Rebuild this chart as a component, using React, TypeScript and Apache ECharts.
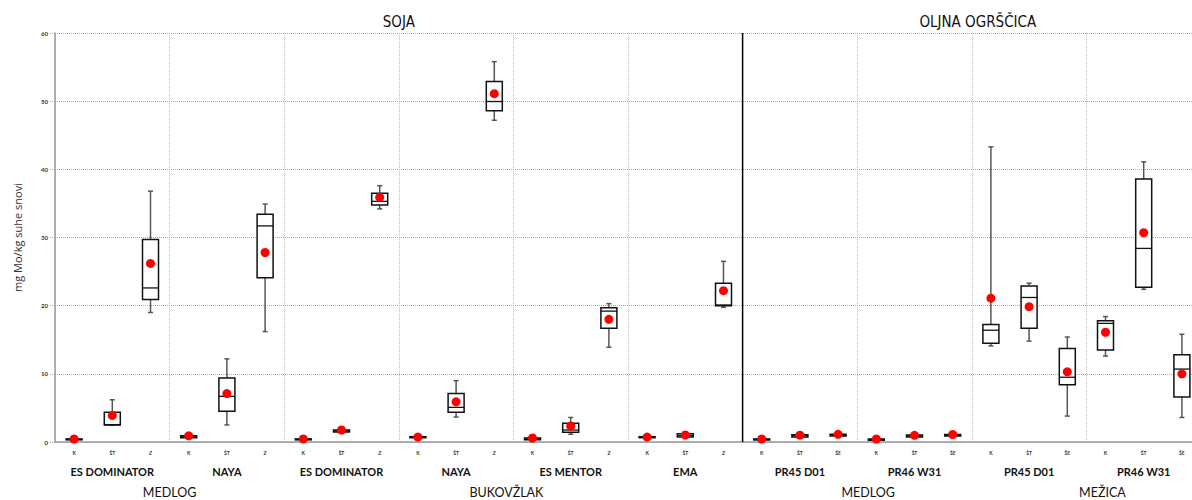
import React, { useEffect, useRef } from 'react';
import * as echarts from 'echarts';

// ---------- DATA ----------
const groupNames = ['ES DOMINATOR', 'NAYA', 'ES DOMINATOR', 'NAYA', 'ES MENTOR', 'EMA', 'PR45 D01', 'PR46 W31', 'PR45 D01', 'PR46 W31'];
const soyTicks = ['K', 'ŠT', 'Z'];
const rapeTicks = ['K', 'ŠT', 'ŠE'];
const soyGroupCount = 6;

const crops = ['SOJA', 'OLJNA OGRŠČICA'];
const cropGroupSpans = [[0, 5], [6, 9]];
const locations = ['MEDLOG', 'BUKOVŽLAK', 'MEDLOG', 'MEŽICA'];
const locationGroupSpans = [[0, 1], [2, 5], [6, 7], [8, 9]];

// per category (10 groups x 3)
const mins = [
  0.3, 2.45, 19.0, 0.6, 2.5, 16.2, 0.3, 1.4, 34.2, 0.6, 3.67, 47.2, 0.3, 1.13, 13.9,
  0.6, 0.7, 19.75, 0.28, 0.55, 0.85, 0.24, 0.7, 0.85, 14.1, 14.8, 3.8, 12.6, 22.4, 3.6,
];
const q1s = [
  0.32, 2.5, 20.9, 0.62, 4.5, 24.1, 0.32, 1.45, 34.75, 0.63, 4.35, 48.6, 0.34, 1.42, 16.7,
  0.63, 0.73, 20.0, 0.3, 0.73, 0.88, 0.26, 0.73, 0.88, 14.5, 16.7, 8.4, 13.5, 22.7, 6.6,
];
const medians = [
  0.38, 2.55, 22.6, 0.75, 6.7, 31.7, 0.38, 1.6, 35.3, 0.7, 5.08, 49.95, 0.45, 1.76, 19.2,
  0.7, 0.95, 20.1, 0.38, 0.9, 1.0, 0.35, 0.9, 1.0, 16.4, 21.2, 9.5, 17.4, 28.4, 10.7,
];
const q3s = [
  0.45, 4.35, 29.7, 0.9, 9.4, 33.4, 0.45, 1.75, 36.5, 0.78, 7.13, 52.9, 0.59, 2.74, 19.7,
  0.78, 1.22, 23.3, 0.44, 1.07, 1.12, 0.44, 1.03, 1.1, 17.25, 22.9, 13.7, 17.8, 38.6, 12.8,
];
const maxs = [
  0.45, 6.2, 36.8, 0.9, 12.2, 34.9, 0.45, 1.8, 37.6, 0.8, 9.0, 55.8, 0.6, 3.6, 20.3,
  0.8, 1.25, 26.5, 0.45, 1.1, 1.15, 0.45, 1.05, 1.12, 43.3, 23.3, 15.4, 18.4, 41.1, 15.8,
];
const means = [
  0.44, 3.9, 26.2, 0.9, 7.1, 27.8, 0.45, 1.76, 35.9, 0.73, 5.9, 51.1, 0.59, 2.35, 18.0,
  0.73, 1.03, 22.2, 0.44, 1.0, 1.12, 0.44, 0.98, 1.1, 21.1, 19.85, 10.3, 16.1, 30.7, 10.0,
];

const yName = 'mg Mo/kg suhe snovi';

// ---------- BUILD ----------
const tickLabels: string[] = [];
groupNames.forEach((_, g) => {
  (g < soyGroupCount ? soyTicks : rapeTicks).forEach((t) => tickLabels.push(t));
});
const boxRows = tickLabels.map((_, i) => [i, mins[i], q1s[i], medians[i], q3s[i], maxs[i]]);
const meanRows = tickLabels.map((_, i) => [i, means[i]]);

const locationShift = [0, -7, 11, 16];
const cropShift = [0, 6];

export default function App() {
  const ref = useRef<HTMLDivElement>(null);
  useEffect(() => {
    if (!ref.current) return;
    const chart = echarts.init(ref.current, null, { renderer: 'svg' });
    const option: any = {
      animation: false,
      grid: { left: 55, right: 0, top: 33, bottom: 58 },
      xAxis: [
        {
          type: 'category',
          data: tickLabels,
          position: 'bottom',
          axisLine: { show: true, lineStyle: { color: '#9a9a9a', width: 1.5 } },
          axisTick: { show: false },
          axisLabel: { interval: 0, fontSize: 5, color: '#333', fontWeight: 'bold', margin: 8, fontFamily: 'Lato' },
          splitLine: { show: false },
        },
        {
          type: 'category',
          data: groupNames,
          position: 'bottom',
          axisLine: { show: false },
          axisTick: { show: false },
          axisLabel: { interval: 0, fontSize: 11, color: '#111', fontWeight: 'bold', margin: 24, fontFamily: 'Lato' },
          splitLine: { show: true, interval: 0, lineStyle: { type: 'dotted', color: '#bdbdbd', width: 1 } },
        },
      ],
      yAxis: {
        type: 'value',
        min: 0,
        max: 60,
        interval: 10,
        name: yName,
        nameLocation: 'middle',
        nameGap: 32,
        nameTextStyle: { fontSize: 11, color: '#333', fontFamily: 'Open Sans' },
        axisLine: { show: true, lineStyle: { color: '#9a9a9a', width: 1.5 } },
        axisTick: { show: true, length: 5, lineStyle: { color: '#aaa', type: 'dotted' } },
        axisLabel: { fontSize: 6, color: '#333', fontWeight: 'bold', margin: 7, fontFamily: 'Lato' },
        splitLine: { show: true, lineStyle: { type: 'dotted', color: '#a8a8a8', width: 1 } },
      },
      series: [
        {
          type: 'custom',
          xAxisIndex: 0,
          yAxisIndex: 0,
          encode: { x: 0, y: [1, 2, 3, 4, 5] },
          data: boxRows,
          z: 3,
          renderItem: (params: any, api: any) => {
            const x = api.value(0);
            const lo = api.coord([x, api.value(1)]);
            const q1 = api.coord([x, api.value(2)]);
            const md = api.coord([x, api.value(3)]);
            const q3 = api.coord([x, api.value(4)]);
            const hi = api.coord([x, api.value(5)]);
            const cx = lo[0];
            const hw = 8;
            const cw = 2.5;
            const wStyle = { stroke: '#555', lineWidth: 1.5 };
            return {
              type: 'group',
              children: [
                { type: 'line', shape: { x1: cx, y1: hi[1], x2: cx, y2: q3[1] }, style: wStyle },
                { type: 'line', shape: { x1: cx, y1: q1[1], x2: cx, y2: lo[1] }, style: wStyle },
                { type: 'line', shape: { x1: cx - cw, y1: hi[1], x2: cx + cw, y2: hi[1] }, style: wStyle },
                { type: 'line', shape: { x1: cx - cw, y1: lo[1], x2: cx + cw, y2: lo[1] }, style: wStyle },
                {
                  type: 'rect',
                  shape: { x: cx - hw, y: q3[1], width: hw * 2, height: Math.max(q1[1] - q3[1], 0.5) },
                  style: { fill: '#fff', stroke: '#111', lineWidth: 1.5 },
                },
                { type: 'line', shape: { x1: cx - hw, y1: md[1], x2: cx + hw, y2: md[1] }, style: { stroke: '#111', lineWidth: 1.3 } },
              ],
            };
          },
        },
        {
          type: 'scatter',
          xAxisIndex: 0,
          yAxisIndex: 0,
          data: meanRows,
          symbol: 'circle',
          symbolSize: 9,
          itemStyle: { color: '#ff0000', opacity: 1 },
          z: 5,
        },
      ],
    };
    chart.setOption(option);

    const px = (i: number) => chart.convertToPixel({ xAxisIndex: 0 }, i) as number;
    const yTop = chart.convertToPixel({ yAxisIndex: 0 }, 60) as number;
    const yBot = chart.convertToPixel({ yAxisIndex: 0 }, 0) as number;
    const graphics: any[] = [];
    const sepX = (px(soyGroupCount * 3 - 1) + px(soyGroupCount * 3)) / 2;
    graphics.push({
      type: 'line',
      shape: { x1: sepX, y1: yTop, x2: sepX, y2: yBot },
      style: { stroke: '#000', lineWidth: 1.5 },
      z: 10,
    });
    crops.forEach((c, k) => {
      const [g0, g1] = cropGroupSpans[k];
      const cx = (px(g0 * 3) + px(g1 * 3 + 2)) / 2 + cropShift[k];
      graphics.push({
        type: 'text',
        x: cx,
        y: 22,
        style: { text: c, fontSize: 15, fontFamily: 'DejaVu Sans Condensed', fill: '#111', align: 'center', verticalAlign: 'middle' },
      });
    });
    locations.forEach((l, k) => {
      const [g0, g1] = locationGroupSpans[k];
      const cx = (px(g0 * 3) + px(g1 * 3 + 2)) / 2 + locationShift[k];
      graphics.push({
        type: 'text',
        x: cx,
        y: 492,
        style: { text: l, fontSize: 12.5, fontFamily: 'Lato', fill: '#111', align: 'center', verticalAlign: 'middle' },
      });
    });
    chart.setOption({ graphic: graphics });
    return () => chart.dispose();
  }, []);
  return (
    <div style={{ position: 'absolute', left: 0, top: 0, width: 1192, height: 500, overflow: 'hidden' }}>
      <div ref={ref} style={{ width: 1201, height: 500 }} />
    </div>
  );
}
